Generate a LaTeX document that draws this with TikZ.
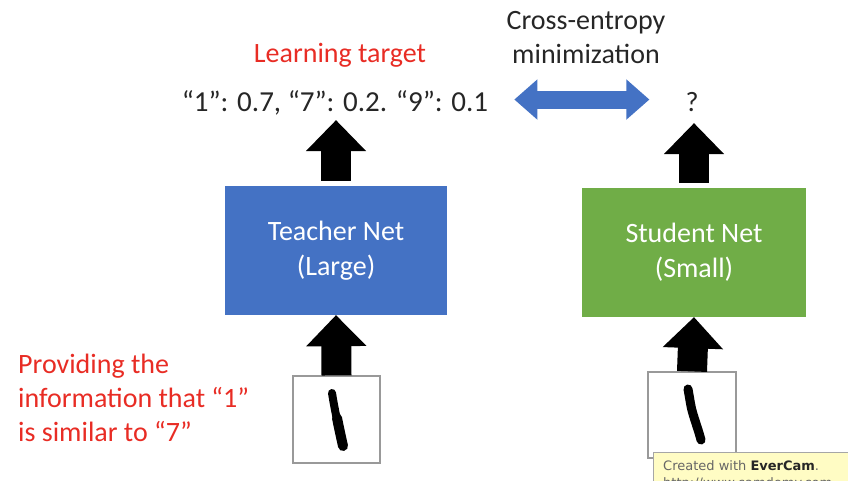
\documentclass[tikz,border=0pt]{standalone}
\usepackage{fontspec}
\setmainfont{Carlito}
\newfontfamily\wmfont{DejaVu Sans}
\usetikzlibrary{positioning,arrows.meta}
\definecolor{tblue}{RGB}{68,114,196}
\definecolor{sgreen}{RGB}{112,173,71}
\definecolor{hired}{RGB}{232,44,36}
\definecolor{wmyellow}{RGB}{255,252,196}
\tikzset{
  lbl/.style={font=\fontsize{28}{34}\selectfont,text=black!85,inner sep=0pt,align=center},
  redlbl/.style={lbl,text=hired},
  netbox/.style={minimum width=222pt,minimum height=129pt,inner sep=0pt,
    font=\fontsize{28}{35}\selectfont,text=white,align=center},
  digitbox/.style={draw=black!40,line width=1.2pt,minimum width=87pt,minimum height=87pt,inner sep=0pt},
  uparr/.style={line width=30pt,-{Triangle[length=31pt,width=60pt,line width=2pt]}}, % block arrow
  dblarr/.style={line width=18pt,tblue,
    {Triangle[length=23pt,width=40pt,line width=2pt]}-{Triangle[length=23pt,width=40pt,line width=2pt]}},
  ink/.style={line width=8pt,line cap=round,black},
}
\begin{document}
\begin{tikzpicture}[x=1pt,y=-1pt]
  \useasboundingbox (0,0) rectangle (848,481);
  \clip (0,0) rectangle (848,481);
  % labels on top
  \node[redlbl,anchor=base] (lt) at (340,63) {Learning target};
  \node[lbl] (ce) at (586,38) {Cross-entropy\\minimization};
  \node[lbl,font=\fontsize{29}{34}\selectfont,anchor=base,text depth=0pt] (target) at (335,112)
    {“1”: 0.7, “7”: 0.2. “9”: 0.1};
  \node[lbl,anchor=base,text depth=0pt] (query) at (692,112) {?};
  % the two nets
  \node[netbox,fill=tblue] (teacher) at (336,250.5) {Teacher Net\\(Large)};
  \node[netbox,fill=sgreen,minimum width=224pt] (student) at (694,252.5) {Student Net\\(Small)};
  % input digits
  \node[digitbox] (img1) at (336.5,419.5) {};
  \node[digitbox,minimum width=88pt,minimum height=86pt] (img2) at (692,415) {};
  \draw[ink] (332,393) .. controls (334,406) and (338,426) .. (343,445);
  \draw[ink,line width=10pt] (337,418) .. controls (339,428) and (341,437) .. (343,446);
  \draw[ink,line width=9pt] (688,389) .. controls (690,400) and (691,408) .. (693,414)
    .. controls (696,424) and (699,432) .. (701,440);
  \node[redlbl,align=left,anchor=north west] (info) at (18,354)
    {Providing the\\information that “1”\\is similar to “7”};
  % arrows
  \draw[uparr] (img1.north) -- (teacher.south);
  \draw[uparr] (img2.north) -- (student.south);
  \draw[uparr,shorten <=5pt,shorten >=8pt] (teacher.north) -- (teacher.north |- target.south);
  \draw[uparr,shorten <=5pt,shorten >=11pt] (student.north) -- (student.north |- query.south);
  \draw[dblarr,shorten <=26pt,shorten >=36pt] ([yshift=2pt]target.east) -- ([yshift=2pt]target.east -| query.west);
  % recorder watermark
  \fill[wmyellow,draw=black!35,line width=1pt] (653,452) rectangle (870,500);
  \node[anchor=base west,align=left,inner sep=0pt,font=\wmfont\fontsize{13}{17}\selectfont,text=black!60] (wm)
    at (663,487) {Created with \textbf{\color{black!85}EverCam}.\\http://www.camdemy.com};
\end{tikzpicture}
\end{document}
